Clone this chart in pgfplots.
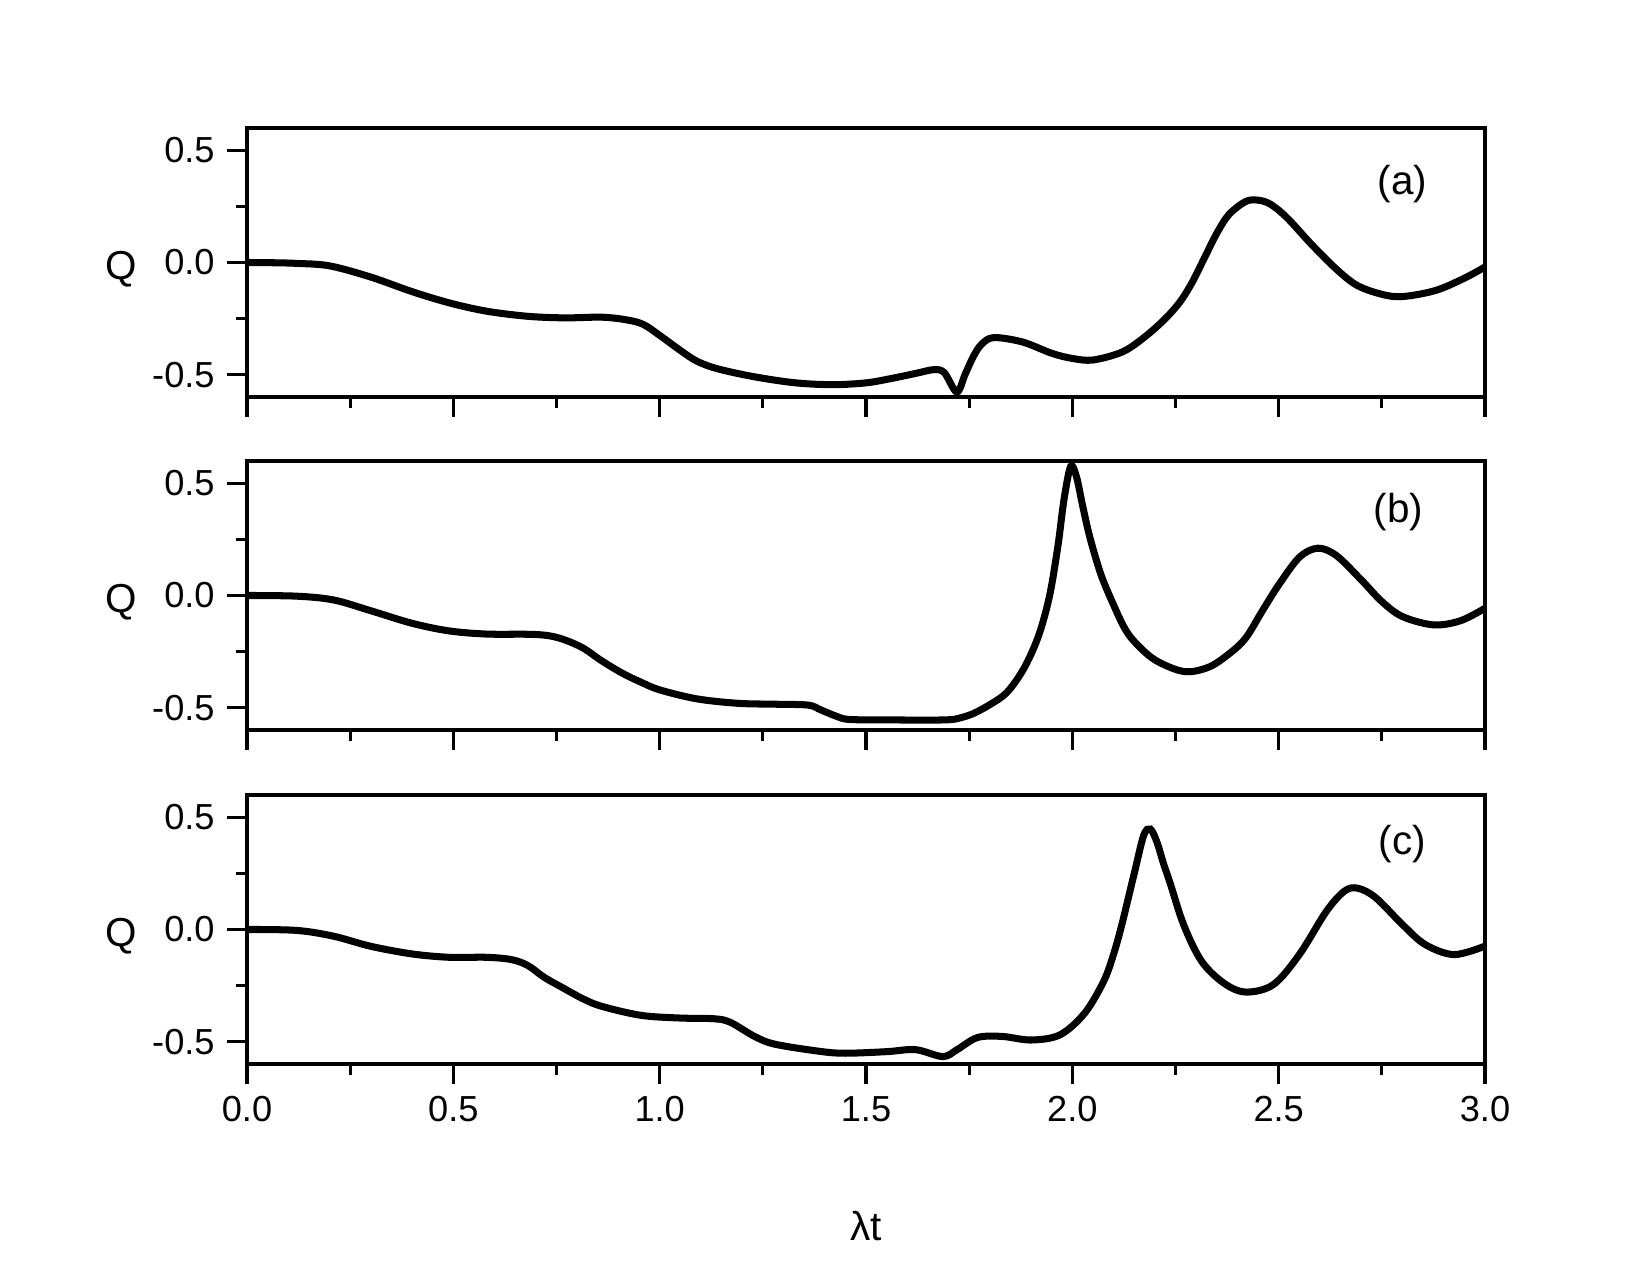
\documentclass[border=0pt]{standalone}
\usepackage{pgfplots}
\pgfplotsset{compat=1.18}
\usepackage{fontspec}
\setmainfont{Liberation Sans}
\pgfplotsset{
  panel/.style={
    scale only axis, width=12.38cm, height=2.69cm,
    xmin=0, xmax=3, ymin=-0.6, ymax=0.6,
    xtick={0,0.5,...,3}, minor x tick num=1,
    ytick={-0.5,0,0.5}, minor y tick num=1,
    tick align=outside, xtick pos=bottom, ytick pos=left,
    major tick length=2.0mm, minor tick length=1.1mm,
    axis line style={line width=0.9pt},
    every tick/.style={line width=0.9pt, black},
    every minor tick/.style={line width=0.9pt, black},
    tick label style={font=\fontsize{10.3}{11}\selectfont},
    /pgf/number format/assume math mode=true,
    yticklabel style={/pgf/number format/.cd, fixed, fixed zerofill, precision=1},
    xticklabel style={/pgf/number format/.cd, fixed, fixed zerofill, precision=1},
    clip=false,
  },
  curve/.style={black, line width=2.0pt, smooth, tension=0.55, no markers},
}
\begin{document}
\begin{tikzpicture}
\path[use as bounding box] (0,0) rectangle (16.5cm,12.84cm);
% (a)
\begin{axis}[panel, at={(2.47cm,8.87cm)}, anchor=south west, xticklabels={}]
\addplot[curve] coordinates {
(0,0) (0.06,-0.001) (0.12,-0.004) (0.2,-0.015) (0.3,-0.065) (0.4,-0.13)
(0.49,-0.18) (0.58,-0.217) (0.68,-0.24) (0.77,-0.247) (0.86,-0.244)
(0.92,-0.256) (0.96,-0.276) (1.0,-0.325) (1.05,-0.392) (1.09,-0.44)
(1.14,-0.474) (1.23,-0.51) (1.33,-0.537) (1.42,-0.545) (1.5,-0.537)
(1.56,-0.518) (1.62,-0.495) (1.665,-0.478) (1.69,-0.492) (1.72,-0.578)
(1.74,-0.50) (1.76,-0.42) (1.78,-0.365) (1.81,-0.335) (1.88,-0.355)
(1.95,-0.405) (2.0,-0.428) (2.05,-0.435) (2.12,-0.4) (2.17,-0.34) (2.22,-0.26)
(2.26,-0.178) (2.29,-0.09) (2.32,0.02) (2.35,0.13) (2.38,0.215) (2.42,0.272) (2.45,0.278)
(2.48,0.26) (2.52,0.2) (2.58,0.08) (2.64,-0.03) (2.69,-0.102) (2.75,-0.142)
(2.8,-0.152) (2.88,-0.125) (2.95,-0.07) (3.0,-0.02)
};
\node[font=\fontsize{11.5}{12}\selectfont] at (axis cs:2.80,0.35) {(a)};
\node[font=\fontsize{11.5}{12}\selectfont] at (axis cs:-0.305,-0.03) {Q};
\end{axis}
% (b)
\begin{axis}[panel, at={(2.47cm,5.54cm)}, anchor=south west, xticklabels={}]
\addplot[curve] coordinates {
(0,0) (0.12,-0.003) (0.21,-0.02) (0.3,-0.068) (0.4,-0.124) (0.49,-0.158)
(0.58,-0.172) (0.68,-0.173) (0.73,-0.179) (0.77,-0.198) (0.815,-0.235)
(0.86,-0.292) (0.91,-0.347) (0.955,-0.387) (1.0,-0.421) (1.09,-0.461)
(1.19,-0.481) (1.28,-0.485) (1.36,-0.489) (1.39,-0.51) (1.43,-0.54)
(1.46,-0.553) (1.55,-0.555) (1.69,-0.555) (1.73,-0.545) (1.77,-0.518)
(1.83,-0.451) (1.86,-0.39) (1.89,-0.3) (1.92,-0.17) (1.945,0.0) (1.965,0.22)
(1.98,0.43) (1.996,0.576) (2.01,0.53) (2.025,0.4) (2.043,0.256)
(2.07,0.09) (2.1,-0.042) (2.125,-0.14) (2.15,-0.205) (2.2,-0.287) (2.27,-0.339)
(2.33,-0.32) (2.38,-0.26) (2.42,-0.19) (2.46,-0.07) (2.5,0.047) (2.55,0.17) (2.595,0.211)
(2.64,0.178) (2.7,0.07) (2.75,-0.027) (2.8,-0.094) (2.875,-0.131)
(2.94,-0.113) (3.0,-0.057)
};
\node[font=\fontsize{11.5}{12}\selectfont] at (axis cs:2.79,0.374) {(b)};
\node[font=\fontsize{11.5}{12}\selectfont] at (axis cs:-0.305,-0.03) {Q};
\end{axis}
% (c)
\begin{axis}[panel, at={(2.47cm,2.20cm)}, anchor=south west]
\addplot[curve] coordinates {
(0,0) (0.12,-0.004) (0.21,-0.03) (0.3,-0.075) (0.4,-0.109) (0.49,-0.124)
(0.58,-0.124) (0.64,-0.134) (0.68,-0.16) (0.72,-0.213) (0.77,-0.265)
(0.815,-0.31) (0.86,-0.343) (0.955,-0.383) (1.05,-0.395) (1.13,-0.398)
(1.17,-0.413) (1.23,-0.477) (1.28,-0.512) (1.39,-0.544) (1.45,-0.552)
(1.55,-0.545) (1.62,-0.536) (1.686,-0.567) (1.72,-0.537) (1.77,-0.482)
(1.83,-0.477) (1.9,-0.493) (1.97,-0.47) (2.03,-0.373) (2.076,-0.231)
(2.1,-0.11) (2.12,0.022) (2.15,0.25) (2.173,0.42) (2.189,0.448) (2.205,0.39)
(2.22,0.3) (2.238,0.201) (2.27,0.02) (2.313,-0.141) (2.367,-0.239) (2.42,-0.279)
(2.487,-0.246) (2.55,-0.112) (2.616,0.082) (2.66,0.172) (2.692,0.184)
(2.735,0.142) (2.8,0.022) (2.855,-0.067) (2.925,-0.112) (3.0,-0.074)
};
\node[font=\fontsize{11.5}{12}\selectfont] at (axis cs:2.80,0.38) {(c)};
\node[font=\fontsize{11.5}{12}\selectfont] at (axis cs:-0.305,-0.03) {Q};
\node[font=\fontsize{11.5}{12}\selectfont] at ([yshift=-16.2mm]rel axis cs:0.5,0) {λt};
\end{axis}
\end{tikzpicture}
\end{document}
